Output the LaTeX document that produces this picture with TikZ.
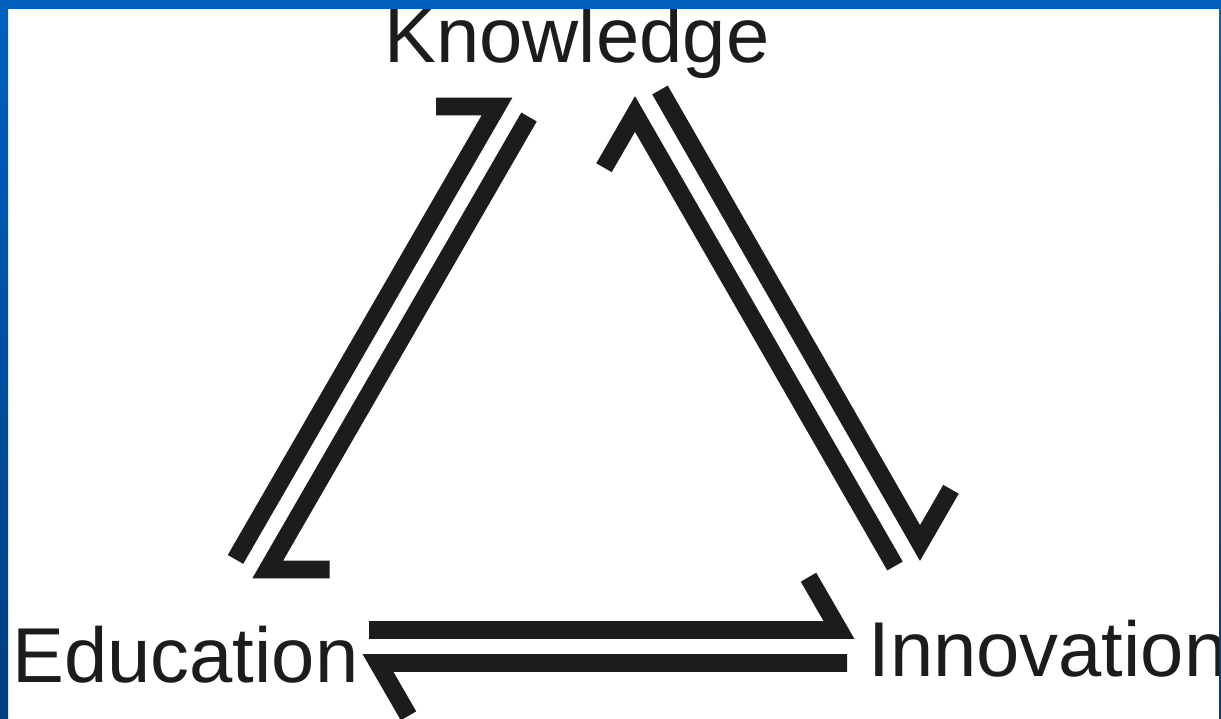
\documentclass[tikz,border=0pt]{standalone}
\usepackage{fontspec}
\setmainfont{Liberation Sans}
\definecolor{frameblue}{HTML}{0060C0}
\definecolor{framedark}{HTML}{003E80}
\definecolor{ink}{HTML}{1C1C1C}
\tikzset{
  harpoon/.style={draw=ink, line width=8.9pt, line join=miter, line cap=butt},
  corner/.style={font=\fontsize{38.9}{41}\selectfont, text=ink, inner sep=0pt, anchor=base west}
}
\begin{document}
\begin{tikzpicture}[x=0.5pt, y=-0.5pt]
        \useasboundingbox (0,0) rectangle (1221,718);
        \fill[white] (0,0) rectangle (1221,718);
        % labels
        \node[corner] (know) at (384,62) {Knowledge};
        \node[corner] (edu) at (12,682) {Education};
        \node[corner] (inno) at (868,676) {Innovation};
        % ends, tips and barbs
        \coordinate (ei-s) at (369,630);   \coordinate (ei-t) at (839,630);   \coordinate (ei-b) at (808.5,577.2);
        \coordinate (ie-s) at (847,663);   \coordinate (ie-t) at (378,663);   \coordinate (ie-b) at (408.5,715.8);
        \coordinate (ek-s) at (235.5,559.4); \coordinate (ek-t) at (497,106.5); \coordinate (ek-b) at (436,106.5);
        \coordinate (ke-s) at (529,117);   \coordinate (ke-t) at (267.7,569.5); \coordinate (ke-b) at (329.7,569.5);
        \coordinate (ik-s) at (895,566);   \coordinate (ik-t) at (635,114);   \coordinate (ik-b) at (604,167.7);
        \coordinate (ki-s) at (660,90);    \coordinate (ki-t) at (920,543);   \coordinate (ki-b) at (951,489.3);
        % harpoons
        \draw[harpoon] (ei-s) -- (ei-t) -- (ei-b);
        \draw[harpoon] (ie-s) -- (ie-t) -- (ie-b);
        \draw[harpoon] (ek-s) -- (ek-t) -- (ek-b);
        \draw[harpoon] (ke-s) -- (ke-t) -- (ke-b);
        \draw[harpoon] (ik-s) -- (ik-t) -- (ik-b);
        \draw[harpoon] (ki-s) -- (ki-t) -- (ki-b);
        % frame
        \fill[frameblue] (0,0) rectangle (1221,9);
        \shade[top color=frameblue, bottom color=framedark] (0,9) rectangle (8,718);
        \shade[top color=frameblue, bottom color=framedark] (1219,9) rectangle (1221,718);
        \end{tikzpicture}
\end{document}
